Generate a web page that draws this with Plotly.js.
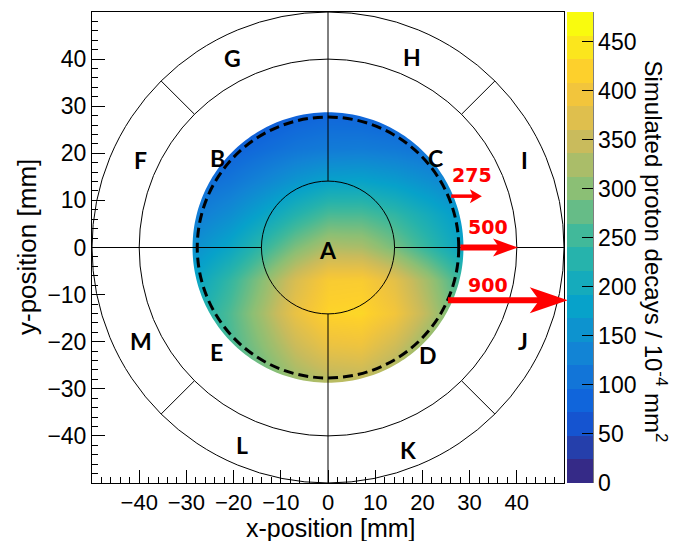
<!DOCTYPE html>
<html><head><meta charset="utf-8">
<script src="https://cdn.plot.ly/plotly-3.0.1.min.js"></script>
<style>html,body{margin:0;padding:0;background:#fff;} #chart{width:679px;height:541px;}</style>
</head><body><div id="chart"></div>
<script>
// ---------------- data ----------------
// bin centres of the coarse density grid [mm]
const xCenters = [-28, -21, -14, -7, 0, 7, 14, 21, 28];
const yCenters = [-28, -21, -14, -7, 0, 7, 14, 21, 28];
// simulated proton decays / 1e-4 mm^2, one row per y centre (bottom -> top)
const rowYm28 = [200, 235, 275, 315, 335, 340, 315, 275, 235];
const rowYm21 = [210, 255, 300, 350, 385, 390, 355, 305, 255];
const rowYm14 = [215, 260, 320, 385, 425, 428, 398, 338, 268];
const rowYm7  = [190, 240, 300, 365, 410, 412, 378, 318, 248];
const rowY0   = [155, 190, 240, 292, 330, 325, 288, 240, 190];
const rowY7   = [122, 148, 185, 225, 258, 258, 238, 205, 168];
const rowY14  = [ 95, 110, 135, 162, 182, 184, 172, 152, 128];
const rowY21  = [ 65,  80,  95, 110, 118, 120, 115, 105,  88];
const rowY28  = [ 45,  55,  68,  80,  88,  86,  78,  65,  50];
const zMin = 0, zMax = 480, nContours = 20;

const xTickVals = [-40, -30, -20, -10, 0, 10, 20, 30, 40];
const yTickVals = [-40, -30, -20, -10, 0, 10, 20, 30, 40];
const cbTickVals = [0, 50, 100, 150, 200, 250, 300, 350, 400, 450];

// region letters
const regionLabels = ['A', 'B', 'C', 'D', 'E', 'F', 'G', 'H', 'I', 'J', 'K', 'L', 'M'];
const regionX = [0, -23.4, 22.8, 21.1, -23.6, -39.7, -20.2, 17.9, 41.6, 41.4, 16.9, -18.2, -39.7];
const regionY = [-0.5, 19.0, 19.0, -22.9, -22.2, 18.5, 40.2, 40.4, 18.5, -19.9, -43.0, -42.0, -19.9];

// red arrows
const arrowLabels = ['275', '500', '900'];
const arrowY  = [10.9, 0.0, -11.2];
const arrowX0 = [26.1, 28.05, 25.4];
const arrowX1 = [32.6, 40.25, 50.8];
const arrowLabelX = [30.55, 33.8, 33.8];
const arrowLabelY = [15.35, 4.3, -7.9];

// titles
const xTitle = 'x-position [mm]';
const yTitle = 'y-position [mm]';
const zTitle = 'Simulated proton decays / 10<sup>-4</sup> mm<sup>2</sup>';

// geometry of the drawn detector layout [mm]
const diskRadius = 28.7, dashedRadius = 27.7, innerRadius = 14.1, middleRadius = 40, outerRadius = 50;
const diagonalAngles = [45, 135, 225, 315];
const axisRange = [-50, 50];

// ---------------- style ----------------
const arrowWidthPx = [3.5, 6, 6];
const headLenPx = [12, 25, 38];
const headHeightPx = [14, 18, 26];
const plotL = 92, plotT = 12, plotW = 472, plotH = 471;
const FONT = 'Liberation Sans, Arial, sans-serif';
const pxToPaperX = px => (px - plotL) / plotW;
const pxToPaperY = py => (plotT + plotH - py) / plotH;

// ROOT kBird palette
const birdStops = [0, 0.125, 0.25, 0.375, 0.5, 0.625, 0.75, 0.875, 1];
const birdR = [0.2082, 0.0592, 0.0780, 0.0232, 0.1802, 0.5301, 0.8186, 0.9956, 0.9764];
const birdG = [0.1664, 0.3599, 0.5041, 0.6419, 0.7178, 0.7492, 0.7328, 0.7862, 0.9832];
const birdB = [0.5293, 0.8684, 0.8385, 0.7914, 0.6425, 0.4662, 0.3499, 0.1968, 0.0539];
function bird(t) {
  let k = 0;
  while (k < birdStops.length - 2 && t > birdStops[k + 1]) k++;
  const f = (t - birdStops[k]) / (birdStops[k + 1] - birdStops[k]);
  const c = a => Math.round(255 * (a[k] + (a[k + 1] - a[k]) * f));
  return 'rgb(' + c(birdR) + ',' + c(birdG) + ',' + c(birdB) + ')';
}
const discreteScale = [], smoothScale = [[0, bird(0)]];
for (let i = 0; i < nContours; i++) {
  const col = bird(i / (nContours - 1));
  discreteScale.push([i / nContours, col], [(i + 1) / nContours, col]);
  smoothScale.push([(i + 0.5) / nContours, col]);
}
smoothScale.push([1, bird(1)]);

const zGrid = [rowYm28, rowYm21, rowYm14, rowYm7, rowY0, rowY7, rowY14, rowY21, rowY28];

const heatCommon = {
  type: 'heatmap', x: xCenters, y: yCenters, z: zGrid,
  zmin: zMin, zmax: zMax, zsmooth: 'best', hoverinfo: 'skip'
};
const traces = [
  Object.assign({}, heatCommon, {
    colorscale: discreteScale, showscale: true,
    colorbar: {
      thickness: 26, thicknessmode: 'pixels', len: plotH, lenmode: 'pixels',
      x: pxToPaperX(567), xanchor: 'left', xpad: 0, y: 0.5, yanchor: 'middle', ypad: 0,
      outlinewidth: 0, ticks: 'inside', ticklen: 11, tickwidth: 1, tickcolor: '#000',
      tickmode: 'array', tickvals: cbTickVals,
      tickfont: {family: FONT, size: 23, color: '#000'}
    }
  }),
  Object.assign({}, heatCommon, {colorscale: smoothScale, showscale: false})
];

// ---------------- shapes ----------------
const shapes = [];
// white mask outside the simulated disk
const R0 = 33;
let mask = `M ${-R0},${-R0} L ${R0},${-R0} L ${R0},${R0} L ${-R0},${R0} Z `;
const nSeg = 240;
for (let i = 0; i <= nSeg; i++) {
  const a = -2 * Math.PI * i / nSeg;
  const px = (diskRadius * Math.cos(a)).toFixed(3), py = (diskRadius * Math.sin(a)).toFixed(3);
  mask += (i === 0 ? 'M ' : 'L ') + px + ',' + py + ' ';
}
mask += 'Z';
shapes.push({type: 'path', path: mask, xref: 'x', yref: 'y', fillcolor: '#fff', fillrule: 'evenodd',
  line: {width: 0}, layer: 'above'});
// circles
[innerRadius, middleRadius, outerRadius].forEach(r => shapes.push({
  type: 'circle', xref: 'x', yref: 'y', x0: -r, y0: -r, x1: r, y1: r,
  line: {color: '#000', width: 1}, layer: 'above'}));
shapes.push({type: 'circle', xref: 'x', yref: 'y', x0: -dashedRadius, y0: -dashedRadius,
  x1: dashedRadius, y1: dashedRadius, line: {color: '#000', width: 3, dash: '10px,5px'}, layer: 'above'});
// cross lines from the inner circle to the frame
[[1, 0], [-1, 0], [0, 1], [0, -1]].forEach(d => shapes.push({
  type: 'line', xref: 'x', yref: 'y',
  x0: d[0] * innerRadius, y0: d[1] * innerRadius, x1: d[0] * outerRadius, y1: d[1] * outerRadius,
  line: {color: '#000', width: 1}, layer: 'above'}));
// diagonal separators in the outer ring
diagonalAngles.forEach(deg => {
  const a = deg * Math.PI / 180;
  shapes.push({type: 'line', xref: 'x', yref: 'y',
    x0: middleRadius * Math.cos(a), y0: middleRadius * Math.sin(a),
    x1: outerRadius * Math.cos(a), y1: outerRadius * Math.sin(a),
    line: {color: '#000', width: 1}, layer: 'above'});
});
// red arrows (in paper units so they are not clipped)
const toP = v => (v - axisRange[0]) / (axisRange[1] - axisRange[0]);
arrowLabels.forEach((lab, i) => {
  const tipX = toP(arrowX1[i]), y = toP(arrowY[i]);
  const L = headLenPx[i] / plotW, H = headHeightPx[i] / 2 / plotH;
  shapes.push({type: 'line', xref: 'paper', yref: 'paper', x0: toP(arrowX0[i]), y0: y,
    x1: tipX - 0.6 * L, y1: y, line: {color: '#ff0000', width: arrowWidthPx[i]}, layer: 'above'});
  shapes.push({type: 'path', xref: 'paper', yref: 'paper',
    path: `M ${tipX},${y} L ${tipX - L},${y + H} L ${tipX - 0.75 * L},${y} L ${tipX - L},${y - H} Z`,
    fillcolor: '#ff0000', line: {width: 0}, layer: 'above'});
});
// colour-bar axis line
shapes.push({type: 'line', xref: 'paper', yref: 'paper', x0: pxToPaperX(593), x1: pxToPaperX(593),
  y0: 0, y1: 1, line: {color: '#000', width: 1}, layer: 'above'});

// ---------------- annotations ----------------
const annotations = [];
regionLabels.forEach((t, i) => annotations.push({
  x: regionX[i], y: regionY[i], xref: 'x', yref: 'y', text: t, showarrow: false,
  xanchor: 'center', yanchor: 'middle',
  font: {family: 'Lato, sans-serif', size: 23, color: '#000', weight: 700}}));
arrowLabels.forEach((t, i) => annotations.push({
  x: arrowLabelX[i], y: arrowLabelY[i], xref: 'x', yref: 'y', text: t, showarrow: false,
  xanchor: 'center', yanchor: 'middle',
  font: {family: 'DejaVu Sans, sans-serif', size: 19, color: '#ff0000', weight: 700}}));
annotations.push({
  x: pxToPaperX(656), y: pxToPaperY(251.5), xref: 'paper', yref: 'paper',
  xanchor: 'center', yanchor: 'middle',
  text: zTitle, textangle: 90, showarrow: false, font: {family: FONT, size: 24, color: '#000'}});
annotations.push({
  x: pxToPaperX(330), y: pxToPaperY(528), xref: 'paper', yref: 'paper',
  xanchor: 'center', yanchor: 'middle',
  text: xTitle, showarrow: false, font: {family: FONT, size: 25, color: '#000'}});
annotations.push({
  x: pxToPaperX(27), y: pxToPaperY(247), xref: 'paper', yref: 'paper', textangle: -90,
  xanchor: 'center', yanchor: 'middle',
  text: yTitle, showarrow: false, font: {family: FONT, size: 26, color: '#000'}});

const axisCommon = {
  range: axisRange, tickmode: 'array', ticks: 'inside', ticklen: 13, tickwidth: 1, tickcolor: '#000',
  minor: {tickmode: 'linear', tick0: 0, dtick: 2, ticks: 'inside', ticklen: 6, tickwidth: 1, tickcolor: '#000'},
  showline: true, mirror: true, linecolor: '#000', linewidth: 1,
  showgrid: false, zeroline: false, tickfont: {family: FONT, size: 22, color: '#000'},
  fixedrange: true
};
const layout = {
  width: 679, height: 541,
  margin: {l: plotL, r: 679 - plotL - plotW, t: plotT, b: 541 - plotT - plotH},
  paper_bgcolor: '#fff', plot_bgcolor: '#fff',
  xaxis: Object.assign({}, axisCommon, {tickvals: xTickVals}),
  yaxis: Object.assign({}, axisCommon, {tickvals: yTickVals, tickfont: {family: FONT, size: 23, color: '#000'}}),
  shapes: shapes, annotations: annotations, showlegend: false
};
Plotly.newPlot('chart', traces, layout, {displayModeBar: false, staticPlot: true});
</script></body></html>
